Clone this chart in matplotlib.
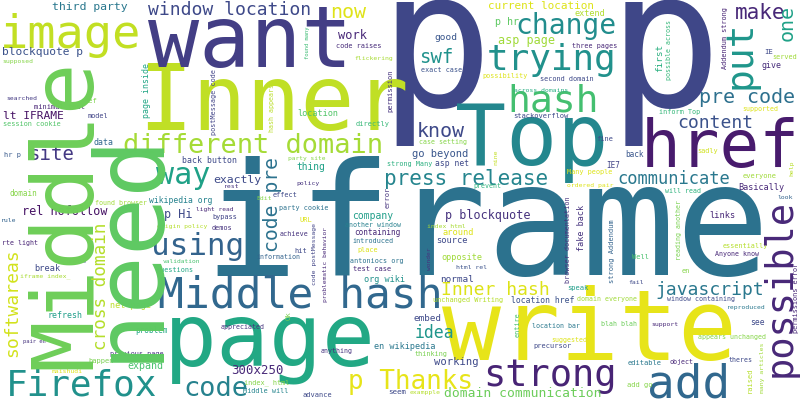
import matplotlib
matplotlib.use("Agg")
import matplotlib.pyplot as plt

# word cloud terms and their weight (font size in px, stands in for frequency)
words = [
    "p p", "iframe", "write", "Inner", "want", "page", "href", "Top",
    "image", "Middle hash", "add", "strong", "Firefox", "hash", "trying", "change",
    "way", "different domain", "using", "code", "p Thanks", "press release", "make", "pre code",
    "know", "swf", "site", "now", "content", "window location", "Inner hash", "javascript",
    "communicate", "idea", "domain communication", "300x250", "work", "p blockquote", "rel nofollow", "asp page",
    "p Hi", "exactly", "third party", "lt IFRAME", "blockquote p", "current location", "working", "go beyond",
    "p hr", "expand", "company", "thing", "good", "normal", "embed", "extend",
    "Basically", "links", "around", "source", "break", "opposite", "org wiki", "en wikipedia",
    "net page", "location", "data", "back button", "refresh", "wikipedia org", "location href", "give",
    "asp net", "see", "seem", "problem", "back", "IE7", "IE", "everyone",
    "Ref", "minimal test", "model", "session cookie", "supposed", "searched", "hr p", "code raises",
    "flickering", "directly", "three pages", "possibility", "second domain", "exact case", "across domains", "stackoverflow",
    "served", "inform Top", "supported", "fine", "sadly", "Many people", "ordered pair", "will read",
    "look", "essentially", "Anyone know", "Well", "en", "fail", "domain everyone", "window containing",
    "reproduced", "blah blah", "support", "appears unchanged", "theres", "editable", "object", "add go",
    "html rel", "speak", "unchanged Writing", "location bar", "suggested", "precursor", "thinking", "exampple",
    "test case", "appreciated", "anything", "index_ html", "Middle will", "advance", "questions", "iframe index_",
    "pair en", "previous page", "happen", "maishudi", "domain", "found browser", "rule", "origin policy",
    "rte light", "validation", "unable", "party site", "rest", "policy", "strong Many", "Edit",
    "effect", "light read", "party cookie", "bypass", "URL", "another window", "demos", "achieve",
    "containing", "introduced", "hit", "place", "information", "antoniocs org", "case setting", "prevent",
    "index html",
    "Middle", "need", "possible", "put", "one", "code pre", "cross domain", "softwareas",
    "first", "possible across", "Addendum strong", "page inside", "postMessage code", "hash appears", "found many", "permission",
    "reading another", "strong Addendum", "help", "permissions error", "many articles", "raised", "browser documentation", "entire",
    "code postMessage", "problematic behavior", "Ok", "fake back", "nine", "wonder", "error",
]
sizes = [
    190, 157, 98, 90, 85, 88, 66, 85,
    47, 43, 46, 37, 36, 38, 36, 28,
    30, 27, 31, 27, 26, 21, 21, 20,
    20, 19, 19, 20, 18, 18, 18, 18,
    17, 16.5, 13, 12.4, 12, 11.7, 11.8, 11.7,
    11.7, 11.5, 11.5, 11.3, 11.2, 11, 10.5, 10.4,
    10, 10, 9.8, 9.7, 9.5, 9.4, 9.3, 8.5,
    8.5, 8.6, 8.6, 8.6, 8.6, 8.5, 8.5, 8.5,
    8.5, 8.5, 8.3, 8.3, 8.3, 8.2, 8.2, 8.3,
    8, 8, 7.5, 7.8, 7.8, 7.6, 7.3, 7.2,
    7, 7, 6.9, 6.9, 6.4, 6.4, 7, 6.9,
    6.4, 7, 6.8, 6.8, 6.9, 6.8, 6.4, 7.1,
    6.9, 6.8, 6.6, 7, 6.9, 6.9, 6.5, 6.6,
    6.5, 6.8, 6.6, 7, 7, 6.5, 6.7, 6.7,
    6.4, 6.6, 6.4, 6.6, 6.6, 7.2, 6.6, 7.1,
    6.5, 7.2, 6.9, 6.6, 6.6, 7, 6.8, 6.4,
    7, 6.6, 6.6, 6.9, 6.9, 7, 6.8, 6.5,
    5.5, 6.9, 7.1, 6.4, 7.7, 6.7, 6.5, 6.4,
    6.6, 6.3, 5.7, 6.3, 6.5, 6.5, 6.8, 6.5,
    6.9, 6.3, 6.8, 6.9, 7, 6.6, 6.9, 6.8,
    7.6, 6.8, 7, 6.9, 6.6, 6.8, 6.6, 6.6,
    6.4,
    86, 97, 37, 38, 20, 19.8, 17.6, 18,
    9.3, 6.7, 6.9, 8.3, 6.8, 6.6, 5.5, 7.1,
    6.7, 7, 6.5, 6.9, 6.5, 7, 6.8, 6.9,
    6.5, 6.3, 7.3, 8.5, 6.5, 6.3, 7.2,
]

# layout from the reference picture: x, y in pixels (y down), rotation, colour
# horizontal words: x = centre, y = baseline; vertical words: x = baseline, y = centre
place = {
    "p p": (551, 106, 0, "#3f4788"),
    "iframe": (487, 275, 0, "#2c728e"),
    "write": (590, 360, 0, "#e7e419"),
    "Inner": (273, 130, 0, "#c0df25"),
    "want": (250, 67, 0, "#433e85"),
    "page": (270, 366, 0, "#22a884"),
    "href": (720, 167, 0, "#481b6d"),
    "Top": (532, 165, 0, "#24878e"),
    "image": (71, 48, 0, "#c2df23"),
    "Middle hash": (300, 308, 0, "#31688e"),
    "add": (689, 397, 0, "#31688e"),
    "strong": (550, 386, 0, "#482475"),
    "Firefox": (82, 395, 0, "#21918c"),
    "hash": (553, 112, 0, "#44bf70"),
    "trying": (552, 70, 0, "#21918c"),
    "change": (566, 34, 0, "#228d8d"),
    "way": (183, 184, 0, "#1fa187"),
    "different domain": (253, 153, 0, "#a5db36"),
    "using": (198, 255, 0, "#33638d"),
    "code": (216, 396, 0, "#26828e"),
    "p Thanks": (410, 389, 0, "#e7e419"),
    "press release": (466, 185, 0, "#25858e"),
    "make": (760, 19, 0, "#482878"),
    "pre code": (747, 103, 0, "#2d708e"),
    "know": (441, 137, 0, "#3e4989"),
    "swf": (436, 63, 0, "#20928c"),
    "site": (51, 160, 0, "#443983"),
    "now": (348, 18, 0, "#dfe318"),
    "content": (715, 128, 0, "#3b528b"),
    "window location": (230, 15, 0, "#3e4989"),
    "Inner hash": (495, 295, 0, "#dde318"),
    "javascript": (710, 295, 0, "#2a788e"),
    "communicate": (674, 184, 0, "#2a788e"),
    "idea": (434, 338, 0, "#1f968b"),
    "domain communication": (523, 397, 0, "#6ccd5a"),
    "300x250": (257, 374, 0, "#482878"),
    "work": (352, 39, 0, "#482878"),
    "p blockquote": (488, 219, 0, "#46327e"),
    "rel nofollow": (65, 215, 0, "#471365"),
    "asp page": (526, 44, 0, "#a0da39"),
    "p Hi": (178, 218, 0, "#3e4989"),
    "exactly": (237, 183, 0, "#3e4a89"),
    "third party": (90, 10, 0, "#2a788e"),
    "lt IFRAME": (33, 119, 0, "#471365"),
    "blockquote p": (42, 55, 0, "#3b528b"),
    "current location": (541, 9, 0, "#dde318"),
    "working": (456, 365, 0, "#3e4989"),
    "go beyond": (440, 157, 0, "#39568c"),
    "p hr": (507, 25, 0, "#5ec962"),
    "expand": (145, 369, 0, "#4ac16d"),
    "company": (373, 219, 0, "#1f9e89"),
    "thing": (311, 170, 0, "#1fa187"),
    "good": (446, 40, 0, "#39568c"),
    "normal": (457, 282, 0, "#3e4989"),
    "embed": (428, 321, 0, "#3e4989"),
    "extend": (590, 16, 0, "#b2dd2d"),
    "Basically": (761, 190, 0, "#482878"),
    "links": (722, 218, 0, "#482878"),
    "around": (458, 235, 0, "#dde318"),
    "source": (452, 243, 0, "#3e4989"),
    "break": (47, 271, 0, "#3e4989"),
    "opposite": (462, 260, 0, "#a0da39"),
    "org wiki": (385, 282, 0, "#21918c"),
    "en wikipedia": (405, 349, 0, "#2a788e"),
    "net page": (130, 308, 0, "#bade28"),
    "location": (318, 116, 0, "#52c569"),
    "data": (103, 145, 0, "#31688e"),
    "back button": (210, 163, 0, "#3e4989"),
    "refresh": (65, 318, 0, "#1f9e89"),
    "wikipedia org": (181, 203, 0, "#26828e"),
    "location href": (543, 303, 0, "#3b528b"),
    "give": (772, 68, 0, "#472c7a"),
    "asp net": (452, 166, 0, "#3e4989"),
    "see": (757, 325, 0, "#3e4989"),
    "seem": (397, 394, 0, "#3e4989"),
    "problem": (151, 333, 0, "#22a884"),
    "back": (634, 157, 0, "#39568c"),
    "IE7": (613, 168, 0, "#414487"),
    "IE": (769, 54, 0, "#3e4989"),
    "everyone": (760, 178, 0, "#a0da39"),
    "Ref": (91, 103, 0, "#7fd34e"),
    "minimal test": (60, 109, 0, "#482475"),
    "model": (98, 118, 0, "#414487"),
    "session cookie": (32, 126, 0, "#52c569"),
    "supposed": (18, 63, 0, "#86d549"),
    "searched": (22, 100, 0, "#443a83"),
    "hr p": (13, 157, 0, "#38598c"),
    "code raises": (359, 48, 0, "#472c7a"),
    "flickering": (374, 60, 0, "#a8db34"),
    "directly": (373, 126, 0, "#37b878"),
    "three pages": (595, 48, 0, "#482878"),
    "possibility": (505, 78, 0, "#dde318"),
    "second domain": (567, 81, 0, "#3e4989"),
    "exact case": (442, 72, 0, "#3b528b"),
    "across domains": (541, 92, 0, "#27ad81"),
    "stackoverflow": (541, 118, 0, "#3e4989"),
    "served": (785, 59, 0, "#a0da39"),
    "inform Top": (680, 114, 0, "#35b779"),
    "supported": (760, 111, 0, "#dde318"),
    "fine": (605, 141, 0, "#3e4989"),
    "sadly": (708, 153, 0, "#d0e11c"),
    "Many people": (590, 174, 0, "#dde318"),
    "ordered pair": (590, 187, 0, "#dde318"),
    "will read": (683, 193, 0, "#2db27d"),
    "look": (785, 199, 0, "#33638d"),
    "essentially": (745, 248, 0, "#b5de2b"),
    "Anyone know": (737, 256, 0, "#482878"),
    "Well": (640, 259, 0, "#4ac16d"),
    "en": (686, 273, 0, "#86d549"),
    "fail": (636, 284, 0, "#3e4989"),
    "domain everyone": (607, 301, 0, "#a0da39"),
    "window containing": (701, 301, 0, "#3e4989"),
    "reproduced": (746, 309, 0, "#2a788e"),
    "blah blah": (619, 326, 0, "#6ccd5a"),
    "support": (665, 326, 0, "#482878"),
    "appears unchanged": (732, 339, 0, "#86d549"),
    "theres": (741, 362, 0, "#3e4989"),
    "editable": (645, 365, 0, "#2a788e"),
    "object": (681, 364, 0, "#482878"),
    "add go": (640, 387, 0, "#86d549"),
    "html rel": (471, 269, 0, "#3b528b"),
    "speak": (578, 290, 0, "#1f9e89"),
    "unchanged Writing": (468, 302, 0, "#b5de2b"),
    "location bar": (556, 328, 0, "#2a788e"),
    "suggested": (569, 342, 0, "#dde318"),
    "precursor": (553, 348, 0, "#3e4989"),
    "thinking": (431, 356, 0, "#7ad151"),
    "exampple": (425, 394, 0, "#b5de2b"),
    "test case": (372, 271, 0, "#482878"),
    "appreciated": (243, 329, 0, "#46337e"),
    "anything": (337, 353, 0, "#46337e"),
    "index_ html": (267, 384, 0, "#86d549"),
    "Middle will": (266, 393, 0, "#25858e"),
    "advance": (317, 397, 0, "#3e4989"),
    "questions": (175, 272, 0, "#22a884"),
    "iframe index_": (45, 277, 0, "#a8db34"),
    "pair en": (34, 343, 0, "#46337e"),
    "previous page": (137, 356, 0, "#46337e"),
    "happen": (101, 363, 0, "#7ad151"),
    "maishudi": (67, 373, 0, "#dde318"),
    "domain": (23, 196, 0, "#86d549"),
    "found browser": (121, 205, 0, "#a0da39"),
    "rule": (9, 222, 0, "#33638d"),
    "origin policy": (182, 228, 0, "#b5de2b"),
    "rte light": (20, 245, 0, "#482475"),
    "validation": (181, 263, 0, "#48c16e"),
    "unable": (77, 263, 0, "#39568c"),
    "party site": (307, 160, 0, "#86d549"),
    "rest": (232, 188, 0, "#46337e"),
    "policy": (308, 185, 0, "#46337e"),
    "strong Many": (410, 166, 0, "#29af7f"),
    "Edit": (264, 200, 0, "#86d549"),
    "effect": (285, 197, 0, "#3e4989"),
    "light read": (215, 211, 0, "#482878"),
    "party cookie": (304, 210, 0, "#2c728e"),
    "bypass": (225, 219, 0, "#414487"),
    "URL": (306, 222, 0, "#dde318"),
    "another window": (373, 227, 0, "#27808e"),
    "demos": (222, 230, 0, "#46337e"),
    "achieve": (294, 236, 0, "#46337e"),
    "containing": (377, 235, 0, "#482878"),
    "introduced": (373, 243, 0, "#2c728e"),
    "hit": (301, 253, 0, "#3e4989"),
    "place": (368, 252, 0, "#dde318"),
    "information": (278, 259, 0, "#33638d"),
    "antoniocs org": (377, 263, 0, "#2c728e"),
    "case setting": (443, 144, 0, "#86d549"),
    "prevent": (487, 188, 0, "#2db27d"),
    "index html": (446, 228, 0, "#a8db34"),
    # vertical words, reading bottom to top
    "Middle": (90, 214, 90, "#6ece58"),
    "need": (155, 245, 90, "#5ec962"),
    "possible": (791, 288, 90, "#482878"),
    "put": (751, 55, 90, "#1f968b"),
    "one": (793, 23, 90, "#1fa187"),
    "code pre": (278, 204, 90, "#2c728e"),
    "cross domain": (106, 286, 90, "#b5de2b"),
    "softwareas": (17, 303, 90, "#d2e21b"),
    "first": (662, 58, 90, "#29af7f"),
    "possible across": (671, 50, 90, "#35b779"),
    "Addendum strong": (727, 38, 90, "#482475"),
    "page inside": (149, 90, 90, "#21a685"),
    "postMessage code": (216, 102, 90, "#414487"),
    "hash appears": (274, 108, 90, "#bade28"),
    "found many": (309, 43, 90, "#3dbc74"),
    "permission": (392, 91, 90, "#46337e"),
    "reading another": (681, 230, 90, "#7ad151"),
    "strong Addendum": (614, 251, 90, "#33638d"),
    "help": (793, 168, 90, "#b8de29"),
    "permissions error": (798, 298, 90, "#482878"),
    "many articles": (764, 368, 90, "#a0da39"),
    "raised": (752, 380, 90, "#b5de2b"),
    "browser documentation": (570, 240, 90, "#46337e"),
    "entire": (520, 325, 90, "#48c16e"),
    "code postMessage": (316, 254, 90, "#414487"),
    "problematic behavior": (327, 264, 90, "#482878"),
    "Ok": (291, 316, 90, "#7ad151"),
    "fake back": (584, 228, 90, "#46337e"),
    "nine": (497, 157, 90, "#c2df23"),
    "wonder": (431, 259, 90, "#46337e"),
    "error": (390, 197, 90, "#46337e"),
}

fig = plt.figure(figsize=(8, 4), dpi=100)
ax = fig.add_axes([0, 0, 1, 1])
ax.set_xlim(0, 800)
ax.set_ylim(400, 0)
ax.axis("off")
fig.patch.set_facecolor("white")

for word, size in zip(words, sizes):
    x, y, rot, color = place[word]
    ax.text(x, y, word, fontsize=size * 0.72, family="DejaVu Sans Mono",
            color=color, rotation=rot, rotation_mode="anchor",
            ha="center", va="baseline")

fig.savefig("out.png", dpi=100, facecolor="white")
